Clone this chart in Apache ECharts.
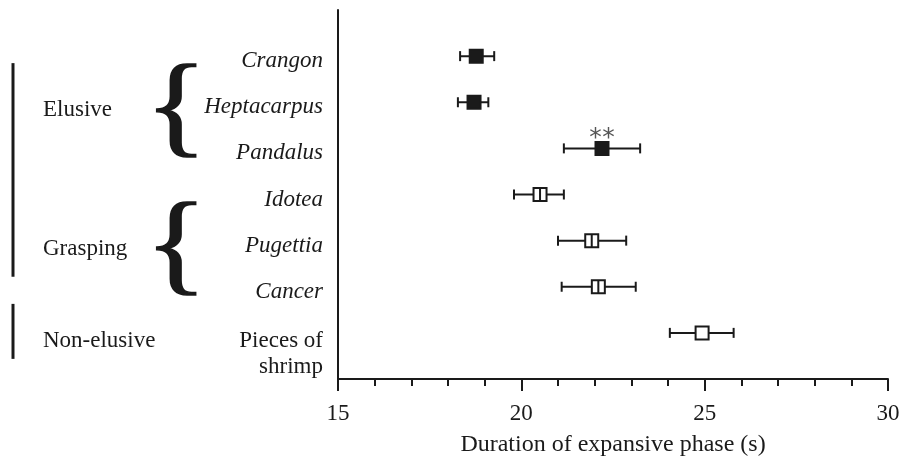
<!DOCTYPE html>
<html>
<head>
<meta charset="utf-8">
<script src="https://cdn.jsdelivr.net/npm/echarts@6/dist/echarts.min.js"></script>
<style>html,body{margin:0;padding:0;background:#fff}#c{width:917px;height:462px}</style>
</head>
<body>
<div id="c"></div>
<script>
// ---- data ----
const categories = ['Crangon', 'Heptacarpus', 'Pandalus', 'Idotea', 'Pugettia', 'Cancer', 'Pieces of shrimp'];
const italicNames = [true, true, true, true, true, true, false];
const means = [18.77, 18.71, 22.20, 20.51, 21.92, 22.10, 24.93];
const lower = [18.33, 18.27, 21.16, 19.80, 21.00, 21.10, 24.05];
const upper = [19.26, 19.10, 23.24, 21.16, 22.86, 23.12, 25.79];
const markerTypes = ['filled', 'filled', 'filled', 'divided', 'divided', 'divided', 'open'];
const significance = ['', '', '**', '', '', '', ''];
const groups = ['Elusive', 'Grasping', 'Non-elusive'];
const groupMembers = [[0, 2], [3, 5], [6, 6]];
const xTicks = [15, 20, 25, 30];
const xTitle = 'Duration of expansive phase (s)';

const FONT = 'Liberation Serif';
const INK = '#1a1a1a';
const chart = echarts.init(document.getElementById('c'), null, {renderer: 'canvas'});

const seriesData = categories.map((c, i) => [i + 1, means[i], lower[i], upper[i]]);

function renderItem(params, api) {
  const i = params.dataIndex;
  const y = api.value(0);
  const pm = api.coord([api.value(1), y]);
  const pl = api.coord([api.value(2), y]);
  const ph = api.coord([api.value(3), y]);
  const cap = 5, half = 6.5;
  const lineStyle = {stroke: INK, lineWidth: 2};
  const children = [
    {type: 'line', shape: {x1: pl[0], y1: pm[1], x2: ph[0], y2: pm[1]}, style: lineStyle},
    {type: 'line', shape: {x1: pl[0], y1: pm[1] - cap, x2: pl[0], y2: pm[1] + cap}, style: lineStyle},
    {type: 'line', shape: {x1: ph[0], y1: pm[1] - cap, x2: ph[0], y2: pm[1] + cap}, style: lineStyle},
    {type: 'rect', shape: {x: pm[0] - half, y: pm[1] - half, width: half * 2, height: half * 2},
      style: {fill: markerTypes[i] === 'filled' ? INK : '#fff', stroke: INK, lineWidth: 2}}
  ];
  if (markerTypes[i] === 'divided') {
    children.push({type: 'line', shape: {x1: pm[0], y1: pm[1] - half, x2: pm[0], y2: pm[1] + half}, style: lineStyle});
  }
  if (significance[i]) {
    const stars = significance[i].split('');
    const step = 13;
    stars.forEach((s, k) => {
      const dx = (k - (stars.length - 1) / 2) * step;
      children.push({type: 'text', style: {text: s, x: pm[0] + dx, y: pm[1] - half + 9,
        align: 'center', verticalAlign: 'bottom', fill: '#555', font: '25px "DejaVu Sans"'}});
    });
  }
  return {type: 'group', children};
}

const option = {
  animation: false,
  grid: {left: 338, right: 29, top: 10, bottom: 82, containLabel: false},
  xAxis: {
    type: 'value', min: 15, max: 30, interval: 5,
    axisLine: {show: true, onZero: false, lineStyle: {color: INK, width: 2}},
    axisTick: {show: true, length: 12, lineStyle: {color: INK, width: 2}},
    minorTick: {show: true, splitNumber: 5, length: 7, lineStyle: {color: INK, width: 2}},
    splitLine: {show: false},
    axisLabel: {margin: 23, color: INK, fontFamily: FONT, fontSize: 23,
      formatter: v => xTicks.includes(v) ? String(v) : ''},
    name: xTitle, nameLocation: 'middle', nameGap: 54,
    nameTextStyle: {color: INK, fontFamily: FONT, fontSize: 24}
  },
  yAxis: {
    type: 'value', inverse: true, min: 0, max: 8, interval: 1,
    axisLine: {show: true, lineStyle: {color: INK, width: 2}},
    axisTick: {show: false},
    splitLine: {show: false},
    axisLabel: {
      margin: 15, color: INK, fontFamily: FONT, fontSize: 23, padding: [10, 0, 0, 0],
      formatter: v => {
        const i = v - 1;
        if (i < 0 || i >= categories.length || !italicNames[i]) return '';
        return '{it|' + categories[i] + '}';
      },
      rich: {
        it: {fontStyle: 'italic', fontFamily: FONT, fontSize: 23, color: INK}
      }
    }
  },
  series: [{type: 'custom', renderItem, data: seriesData, encode: {x: [1, 2, 3], y: 0}, clip: false}]
};
chart.setOption(option);

// annotations, positioned through the y scale
function py(v) { return chart.convertToPixel({yAxisIndex: 0}, v); }
const graphics = [];
// non-italic category label(s) wrapped onto two lines
categories.forEach((c, i) => {
  if (italicNames[i]) return;
  const parts = c.split(' ');
  graphics.push({type: 'text', x: 323, y: py(i + 1) - 5,
    style: {text: parts.slice(0, 2).join(' ') + '\n' + parts.slice(2).join(' '),
      font: '23px "Liberation Serif"', fill: INK, align: 'right', verticalAlign: 'top', lineHeight: 26}});
});
groups.forEach((g, k) => {
  const [a, b] = groupMembers[k];
  const yTop = py(a + 1), yBot = py(b + 1);
  const yMid = (yTop + yBot) / 2;
  graphics.push({type: 'text', x: 43, y: yMid + 8,
    style: {text: g, font: '23px "Liberation Serif"', fill: INK, verticalAlign: 'middle'}});
  if (a !== b) {
    graphics.push({type: 'text', x: 145, y: yMid + 10, scaleX: 1.16,
      style: {text: '{', font: '112px "Liberation Serif"', fill: INK, stroke: INK, lineWidth: 1.5,
        verticalAlign: 'middle', align: 'left'}});
  }
});
// vertical bars: elusive+grasping together, non-elusive
graphics.push({type: 'line', shape: {x1: 13, y1: py(1) + 7, x2: 13, y2: py(6) - 10}, style: {stroke: INK, lineWidth: 3}});
graphics.push({type: 'line', shape: {x1: 13, y1: py(7) - 29, x2: 13, y2: py(7) + 26}, style: {stroke: INK, lineWidth: 3}});
chart.setOption({graphic: graphics});
</script>
</body>
</html>
